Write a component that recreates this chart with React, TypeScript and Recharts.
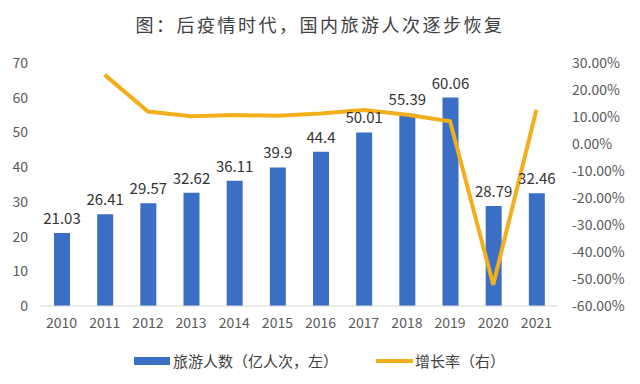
import React from 'react';
import { ComposedChart, Bar, Line, XAxis, YAxis, LabelList } from 'recharts';

const years = ['2010', '2011', '2012', '2013', '2014', '2015', '2016', '2017', '2018', '2019', '2020', '2021'];
// 旅游人数（亿人次）
const visitors = [21.03, 26.41, 29.57, 32.62, 36.11, 39.9, 44.4, 50.01, 55.39, 60.06, 28.79, 32.46];
// 增长率 (%)
const growthRate = [null, 25.6, 12.0, 10.3, 10.7, 10.5, 11.3, 12.6, 10.8, 8.4, -52.1, 12.7];
const leftTicks = [0, 10, 20, 30, 40, 50, 60, 70];
const rightTicks = [-60, -50, -40, -30, -20, -10, 0, 10, 20, 30];

const data = years.map((year, i) => ({ year, visitors: visitors[i], growth: growthRate[i] }));

const FONT = '"Noto Sans CJK SC", "Noto Sans", sans-serif';
const BLUE = '#3A6FC5';
const ORANGE = '#F3AE1B';

const App: React.FC = () => {
  return (
    <div style={{ position: 'absolute', left: 0, top: 0, width: 640, height: 384, background: '#fff', fontFamily: FONT }}>
      <div
        style={{
          position: 'absolute',
          top: 11,
          left: 0,
          width: 640,
          textAlign: 'center',
          fontSize: 18,
          letterSpacing: 2.5,
          color: '#404040',
        }}
      >
        图：后疫情时代，国内旅游人次逐步恢复
      </div>

      <div style={{ position: 'absolute', left: 0, top: 0 }}>
        <ComposedChart
          width={640}
          height={384}
          data={data}
          margin={{ top: 63, right: 8, bottom: 48, left: 0 }}
        >
          <XAxis
            dataKey="year"
            height={30}
            axisLine={{ stroke: '#d9d9d9' }}
            tickLine={false}
            tickSize={0}
            tickMargin={12}
            tick={{ fill: '#595959', fontSize: 14, fontFamily: FONT }}
            interval={0}
          />
          <YAxis
            yAxisId="left"
            width={40}
            domain={[0, 70]}
            ticks={leftTicks}
            axisLine={false}
            tickLine={false}
            tickSize={0}
            tickMargin={12}
            tick={{ fill: '#595959', fontSize: 14, fontFamily: FONT }}
          />
          <YAxis
            yAxisId="right"
            orientation="right"
            width={74}
            domain={[-60, 30]}
            ticks={rightTicks}
            axisLine={false}
            tickLine={false}
            tickSize={0}
            tickMargin={14}
            tickFormatter={(v: number) => `${v.toFixed(2)}%`}
            tick={{ fill: '#595959', fontSize: 14, fontFamily: FONT }}
          />
          <Bar yAxisId="left" dataKey="visitors" fill={BLUE} barSize={16} isAnimationActive={false}>
            <LabelList dataKey="visitors" position="top" offset={9} fill="#333" fontSize={15} fontFamily={FONT} />
          </Bar>
          <Line
            yAxisId="right"
            type="linear"
            dataKey="growth"
            stroke={ORANGE}
            strokeWidth={4}
            dot={false}
            activeDot={false}
            isAnimationActive={false}
          />
        </ComposedChart>
      </div>

      {/* legend */}
      <div style={{ position: 'absolute', left: 134, top: 357, width: 36, height: 8, background: BLUE }} />
      <div style={{ position: 'absolute', left: 173, top: 351, fontSize: 15, lineHeight: '20px', color: '#404040' }}>
        旅游人数（亿人次，左）
      </div>
      <div style={{ position: 'absolute', left: 376, top: 359, width: 37, height: 4, background: ORANGE }} />
      <div style={{ position: 'absolute', left: 415, top: 351, fontSize: 15, lineHeight: '20px', color: '#404040' }}>
        增长率（右）
      </div>
    </div>
  );
};

export default App;
